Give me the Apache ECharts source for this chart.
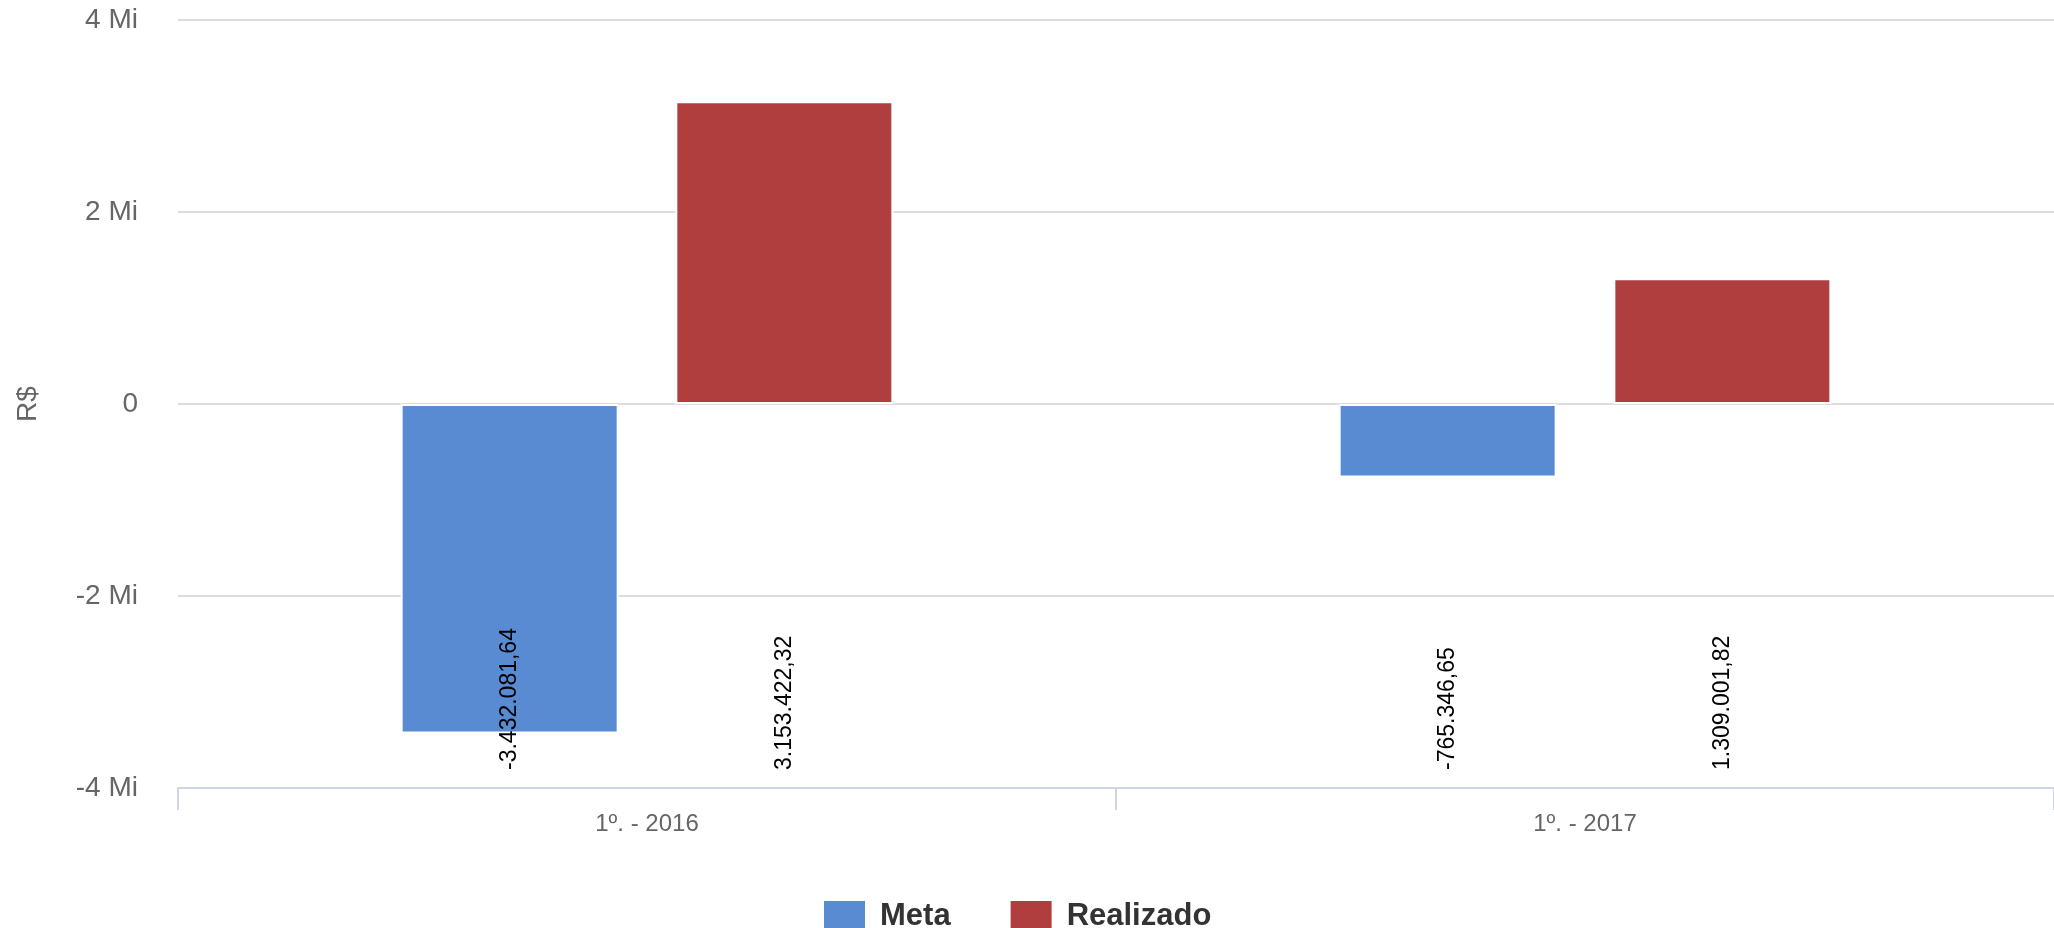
<!DOCTYPE html>
<html>
<head>
<meta charset="utf-8">
<script src="https://cdn.jsdelivr.net/npm/echarts@6/dist/echarts.min.js"></script>
<style>
html,body{margin:0;padding:0;background:#fff;}
#chart{width:2054px;height:928px;}
</style>
</head>
<body>
<div id="chart"></div>
<script>
const categories = ['1º. - 2016', '1º. - 2017'];
const seriesNames = ['Meta', 'Realizado'];
const metaValues = [-3432081.64, -765346.65];
const realizadoValues = [3153422.32, 1309001.82];
const yMin = -4000000;
const yMax = 4000000;
const yInterval = 2000000;
const colors = ['#588BD1', '#B03E3F'];

function fmtBR(v) {
  const neg = v < 0;
  const s = Math.abs(v).toFixed(2);
  const parts = s.split('.');
  const intPart = parts[0].replace(/\B(?=(\d{3})+(?!\d))/g, '.');
  return (neg ? '-' : '') + intPart + ',' + parts[1];
}

function labelPoints(values) {
  return values.map((v, i) => ({ coord: [i, yMin], value: v }));
}

const font = '"Liberation Sans", Arial, sans-serif';

function makeSeries(name, values, color) {
  return {
    name: name,
    type: 'bar',
    data: values,
    barWidth: 218,
    barGap: '26%',
    itemStyle: { color: color, borderColor: '#ffffff', borderWidth: 2 },
    markPoint: {
      symbol: 'circle',
      symbolSize: 1,
      itemStyle: { color: 'rgba(0,0,0,0)' },
      animation: false,
      label: {
        show: true,
        position: 'inside',
        rotate: 90,
        align: 'left',
        verticalAlign: 'middle',
        offset: [18, 0],
        color: '#000',
        fontSize: 23,
        fontFamily: font,
        formatter: p => fmtBR(p.value)
      },
      data: labelPoints(values)
    }
  };
}

const chart = echarts.init(document.getElementById('chart'));
chart.setOption({
  animation: false,
  color: colors,
  grid: { left: 178, right: -3, top: 20, bottom: 140 },
  legend: {
    data: seriesNames,
    left: 817,
    top: 894,
    icon: 'rect',
    itemWidth: 43,
    itemHeight: 33,
    itemGap: 58,
    textStyle: { fontSize: 31, fontWeight: 'bold', color: '#333333', fontFamily: font, padding: [0, 0, 0, 9] }
  },
  xAxis: {
    type: 'category',
    data: categories,
    axisLine: { onZero: false, lineStyle: { color: '#ccd6eb', width: 2 } },
    axisTick: { show: true, length: 22, lineStyle: { color: '#ccd6eb', width: 2 } },
    axisLabel: { color: '#666666', fontSize: 24, fontFamily: font, margin: 24 },
    splitLine: { show: false }
  },
  yAxis: {
    type: 'value',
    min: yMin,
    max: yMax,
    interval: yInterval,
    name: 'R$',
    nameLocation: 'middle',
    nameGap: 136,
    nameTextStyle: { color: '#666666', fontSize: 28, fontFamily: font },
    axisLine: { show: false },
    axisTick: { show: false },
    axisLabel: {
      color: '#666666', fontSize: 28, fontFamily: font, margin: 40,
      formatter: v => v === 0 ? '0' : (v / 1000000) + ' Mi'
    },
    splitLine: { lineStyle: { color: '#dddddd', width: 2 } }
  },
  series: [
    makeSeries(seriesNames[0], metaValues, colors[0]),
    makeSeries(seriesNames[1], realizadoValues, colors[1])
  ]
});
</script>
</body>
</html>
